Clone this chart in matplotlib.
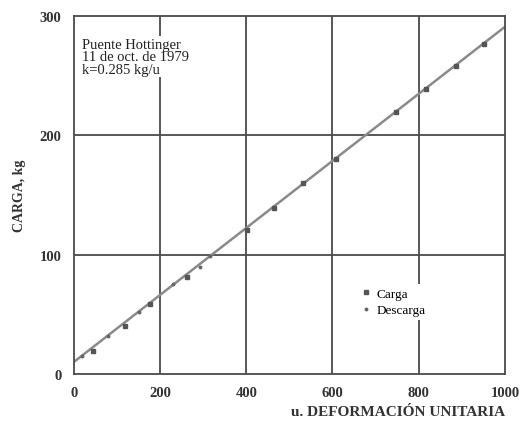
import numpy as np
import matplotlib
matplotlib.use("Agg")
import matplotlib.pyplot as plt

# lecturas
carga_x = [44, 118, 176, 262, 401, 464, 531, 608, 747, 817, 886, 951]
carga_y = [19, 40, 59, 81, 121, 139, 160, 180, 220, 239, 258, 277]
descarga_x = [20, 80, 150, 230, 292, 316]
descarga_y = [15, 32, 52, 75, 90, 99]
fit_x = [0, 1000]
fit_y = [10, 291]

plt.rcParams["font.family"] = ["Liberation Serif", "DejaVu Serif"]

fig = plt.figure(figsize=(5.2, 4.27), dpi=100)
ax = fig.add_axes([0.142, 0.122, 0.829, 0.838])

grid_c = "#4a4a4a"
for gx in [200, 400, 600, 800]:
    ax.axvline(gx, color=grid_c, lw=1.3, zorder=1)
for gy in [100, 200]:
    ax.axhline(gy, color=grid_c, lw=1.3, zorder=1)

ax.plot(fit_x, fit_y, color="#8a8a8a", lw=1.8, zorder=2)
ax.plot(carga_x, carga_y, "s", color="#555555", ms=2.2, ls="none", zorder=3, label="Carga")
ax.plot(descarga_x, descarga_y, "o", color="#666666", ms=1.8, ls="none", zorder=3, label="Descarga")

ax.set_xlim(0, 1000)
ax.set_ylim(0, 300)
ax.set_xticks([0, 200, 400, 600, 800, 1000])
ax.set_yticks([0, 100, 200, 300])
ax.tick_params(length=0, labelsize=10.5, pad=9)
for lab in ax.get_xticklabels() + ax.get_yticklabels():
    lab.set_fontweight("bold")
    lab.set_color("#333333")
for s in ax.spines.values():
    s.set_color(grid_c)
    s.set_linewidth(1.3)

ax.set_ylabel("CARGA, kg", fontsize=10, fontweight="bold", color="#333333", labelpad=10)
ax.set_xlabel("u. DEFORMACIÓN UNITARIA", fontsize=11, fontweight="bold", color="#333333",
              loc="right", labelpad=4)

ax.text(20, 282, "Puente Hottinger\n11 de oct. de 1979\nk=0.285 kg/u", fontsize=10.5,
        va="top", ha="left", linespacing=0.95, color="#222222",
        bbox=dict(facecolor="white", edgecolor="none", pad=1))

leg = ax.legend(loc="upper left", bbox_to_anchor=(0.645, 0.27), frameon=True, fontsize=9.5,
                handlelength=0.6, handletextpad=0.5, borderpad=0.3, labelspacing=0.3,
                markerscale=1.0)
leg.get_frame().set_edgecolor("none")
leg.get_frame().set_facecolor("white")
leg.get_frame().set_alpha(1)

fig.savefig("out.png", dpi=100)
